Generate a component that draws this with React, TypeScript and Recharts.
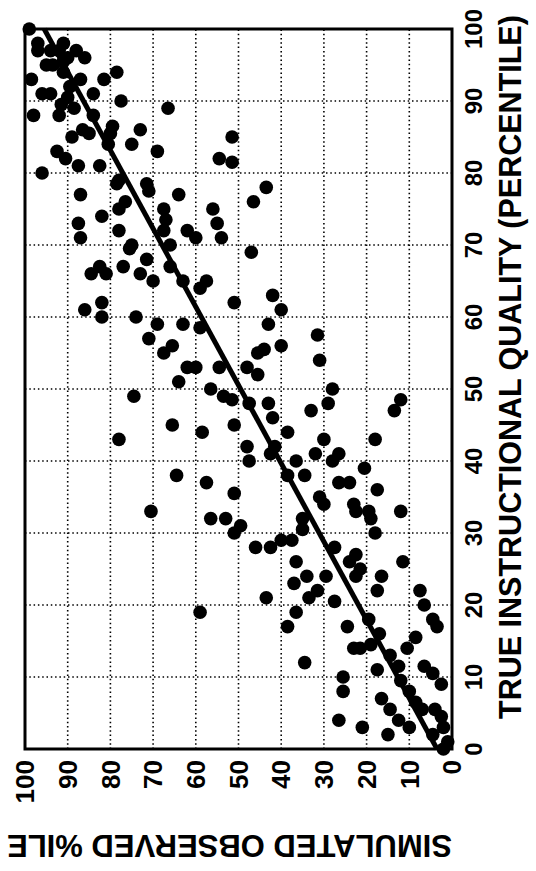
import React from 'react';
import { ScatterChart, Scatter, XAxis, YAxis, CartesianGrid, ReferenceLine, ReferenceArea } from 'recharts';

// True instructional quality (percentile) for each simulated teacher
const TRUE_Q: number[] = [
  100, 98, 97, 97, 97, 97, 96, 95, 95, 94, 93, 92, 90.5, 91, 91, 91, 93, 94, 88, 89.5, 88, 90, 86, 84, 83, 89, 86.5, 85.5, 88, 85.5, 86, 85, 83, 82, 81, 81, 84, 80, 79, 78.5, 78.5, 77.5, 77, 76, 75, 74, 73, 71, 72, 70, 69.5, 75, 73.5, 77, 72, 70, 72, 71, 75, 73, 71, 82, 81.5, 85, 67, 68, 67,
  98, 96, 95.5, 93, 89,
  78, 76, 69,
  66, 66, 67, 66, 65, 65, 65, 64, 62, 62, 60, 61, 60, 59, 57, 59, 58.5, 56, 55, 53, 53, 51, 50, 49, 48.5, 53, 49, 45, 44, 45, 43, 38, 37, 35.5, 33, 32, 32, 30,
  63, 61, 59, 57.5, 56, 55.5, 55, 54, 53, 52, 50, 48, 47, 48.5, 47, 48, 48, 46, 44, 43, 43, 42, 41, 42, 40, 41, 40, 38, 40, 41, 39, 38, 37, 37, 36, 35, 34, 34, 33, 33,
  19,
  31, 28, 28, 29, 29, 32, 30.5, 33, 32, 30, 26, 24, 23, 22, 21, 21, 20.5, 24, 28, 27, 26, 25, 24, 24, 22, 26, 22, 20, 18, 17, 19, 17, 17, 14, 18, 16, 14.5, 14, 15.5, 14, 13, 11.5, 11, 12, 11.5, 10.5, 9, 10, 8, 7, 5.5, 4, 8, 6.5, 3, 5.5, 4.5, 2, 3, 4, 3, 2, 1, 0, 5.5, 9.5,
];

// Simulated observed percentile for the same teachers
const OBS_P: number[] = [
  99, 97, 97, 94, 92, 88, 86, 93.5, 95, 91, 98.5, 89.5, 90, 96, 94, 84, 81.5, 78.5, 98, 91.5, 92, 77.5, 73, 75, 69, 66.5, 79.5, 80, 84, 85, 86.5, 89, 92.5, 90.5, 87.5, 82.5, 80.5, 96, 78, 78.5, 71.5, 71, 87, 76.5, 78, 82, 87.5, 87, 78, 75, 75.5, 67.5, 67, 64, 67.5, 66, 62, 60, 56, 55, 54, 54.5, 51.5, 51.5, 82.5, 71.5, 66,
  91, 90, 91, 87, 88.5,
  43.5, 46.5, 47,
  84.5, 81, 77, 73, 70, 63, 57.5, 59, 51, 82, 82, 86, 74, 69, 71, 63, 59, 65.5, 67.5, 62, 60, 64, 56.5, 53.5, 51.5, 54.5, 74.5, 65.5, 58.5, 51, 78, 64.5, 57.5, 51, 70.5, 56.5, 53, 51,
  42, 40, 43, 31.5, 40, 44, 45.5, 31, 48, 45.5, 28, 29, 33, 12, 13.5, 47.5, 43, 42, 38.5, 30, 18, 41.5, 42.5, 48, 47.5, 32, 36.5, 34.5, 28, 26.5, 20.5, 38.5, 26.5, 24, 17.5, 31, 30, 23, 19.5, 12,
  59,
  49.5, 46, 42.5, 40, 37.5, 35, 35, 22.5, 19, 18, 36.5, 34, 37, 31.5, 33.5, 43.5, 27.5, 29.5, 27.5, 22.5, 24, 21.5, 22.5, 16.5, 17.5, 11.5, 7.5, 6.5, 4.5, 3.5, 36.5, 38.5, 24.5, 23, 19.5, 17, 19, 21.5, 8.5, 10.5, 14.5, 12.5, 17.5, 34.5, 6.5, 4.5, 2.5, 25.5, 25.5, 16.5, 14.5, 12.5, 10, 8.5, 10, 4, 2.5, 4.5, 2, 26.5, 21, 15, 1, 2, 7, 12,
];

const TICKS: number[] = [0, 10, 20, 30, 40, 50, 60, 70, 80, 90, 100];

// Fitted line endpoints (true -> observed)
const FIT_TRUE: number[] = [0, 100];
const FIT_OBS: number[] = [3.5, 95.5];

const X_TITLE = 'TRUE INSTRUCTIONAL QUALITY (PERCENTILE)';
const Y_TITLE = 'SIMULATED OBSERVED %ILE';

const data = TRUE_Q.map((t, i) => ({ t, o: OBS_P[i] }));

const FONT = '"Liberation Sans", Arial, Helvetica, sans-serif';

const Dot = (p: any) => <circle cx={p.cx} cy={p.cy} r={6.8} fill="#000" />;

const XTitle = (props: any) => {
  const vb = props.viewBox;
  return (
    <text
      x={vb.x + vb.width / 2 + 22}
      y={vb.y + 69}
      textAnchor="middle"
      fontFamily={FONT}
      fontWeight="bold"
      fontSize={30.5}
      fill="#000"
    >
      {X_TITLE}
    </text>
  );
};

const YTitle = (props: any) => {
  const vb = props.viewBox;
  const cx = 36;
  const cy = vb.y + vb.height / 2 - 9;
  return (
    <text
      x={cx}
      y={cy}
      transform={`rotate(-90, ${cx}, ${cy})`}
      textAnchor="middle"
      fontFamily={FONT}
      fontWeight="bold"
      fontSize={31}
      fill="#000"
    >
      {Y_TITLE}
    </text>
  );
};

export default function App() {
  return (
    <div style={{ position: 'absolute', left: 0, top: 0, width: 536, height: 871, overflow: 'hidden', background: '#fff' }}>
      <div
        style={{
          position: 'absolute',
          left: 0,
          top: 0,
          width: 871,
          height: 536,
          transformOrigin: '0 0',
          transform: 'translate(0px, 871px) rotate(-90deg)',
        }}
      >
        <ScatterChart width={871} height={536} margin={{ top: 25, right: 29, bottom: 34, left: 62 }}>
          <CartesianGrid stroke="#000" strokeWidth={1.6} strokeDasharray="1.5 2.8" />
          <XAxis
            type="number"
            dataKey="t"
            domain={[0, 100]}
            ticks={TICKS}
            interval={0}
            axisLine={false}
            tickLine={false}
            tickSize={0}
            tickMargin={13}
            height={50}
            tick={{ fill: '#000', fontFamily: FONT, fontWeight: 'bold', fontSize: 24 }}
            label={{ content: XTitle }}
          />
          <YAxis
            type="number"
            dataKey="o"
            domain={[0, 100]}
            ticks={TICKS}
            interval={0}
            axisLine={false}
            tickLine={false}
            tickSize={0}
            tickMargin={11}
            width={60}
            tick={{ fill: '#000', fontFamily: FONT, fontWeight: 'bold', fontSize: 26 }}
            label={{ content: YTitle }}
          />
          <ReferenceArea x1={0} x2={100} y1={0} y2={100} fill="none" stroke="#000" strokeWidth={3} />
          <Scatter data={data} shape={Dot} isAnimationActive={false} />
          <ReferenceLine
            segment={[
              { x: FIT_TRUE[0], y: FIT_OBS[0] },
              { x: FIT_TRUE[1], y: FIT_OBS[1] },
            ]}
            stroke="#000"
            strokeWidth={5}
          />
        </ScatterChart>
      </div>
    </div>
  );
}
